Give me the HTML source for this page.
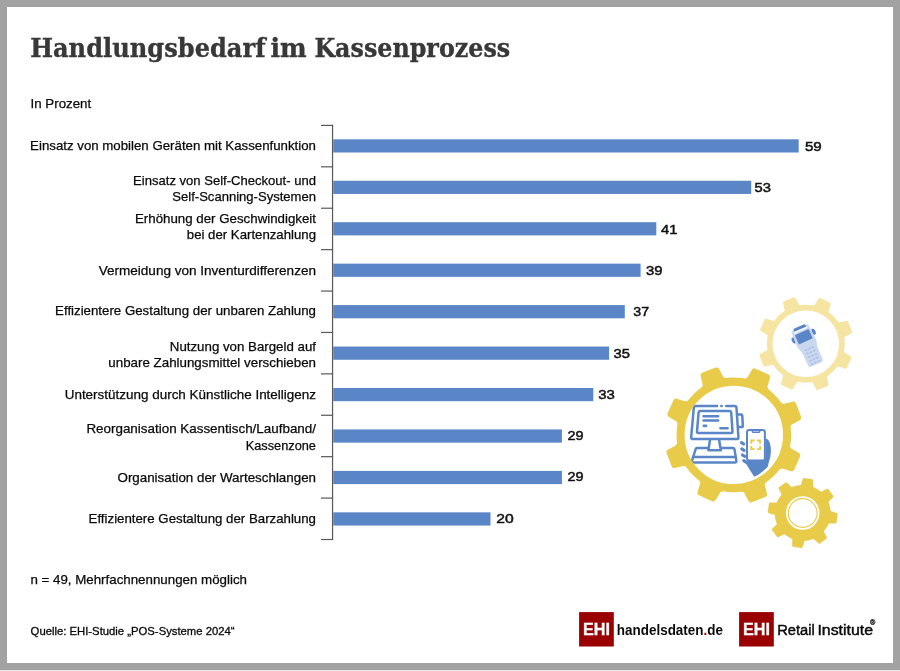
<!DOCTYPE html>
<html lang="de"><head><meta charset="utf-8"><title>Handlungsbedarf im Kassenprozess</title>
<style>
html,body{margin:0;padding:0;background:#a2a2a2;}
body{width:900px;height:671px;overflow:hidden;}
svg{display:block}
.t{font-family:"Liberation Sans",sans-serif;font-size:13px;fill:#0a0a0a;stroke:#0a0a0a;stroke-width:0.25px}
.v{font-family:"Liberation Sans",sans-serif;font-size:13.4px;fill:#111;stroke:#111;stroke-width:0.5px}
.h{font-family:"DejaVu Serif","Liberation Serif",serif;font-weight:bold;font-size:25.4px;fill:#383838;stroke:#383838;stroke-width:0.35px}
.q{font-family:"Liberation Sans",sans-serif;font-size:11.2px;fill:#0a0a0a;stroke:#0a0a0a;stroke-width:0.3px}
.lg{font-family:"Liberation Sans",sans-serif;font-size:15.2px;fill:#0a0a0a}
.ehi{font-family:"Liberation Sans",sans-serif;font-size:16px;font-weight:bold;fill:#fff;stroke:#fff;stroke-width:0.3px}
</style></head><body>
<svg width="900" height="671" viewBox="0 0 900 671">
<rect x="0" y="0" width="900" height="671" fill="#a2a2a2"/>
<rect x="0" y="670" width="900" height="1" fill="#e8e8e8"/>
<rect x="7" y="7" width="886" height="656" fill="#ffffff"/>
<text class="h"><tspan x="30.2" y="57.4" textLength="235.4" lengthAdjust="spacingAndGlyphs">Handlungsbedarf</tspan> <tspan x="270.4" y="57.4" textLength="36.2" lengthAdjust="spacingAndGlyphs">im</tspan> <tspan x="314.4" y="57.4" textLength="195.8" lengthAdjust="spacingAndGlyphs">Kassenprozess</tspan></text>
<text class="t" x="30.6" y="107.9" textLength="60.6" lengthAdjust="spacingAndGlyphs">In Prozent</text>
<g stroke="#595959" stroke-width="1.2" fill="none">
<path d="M332.55 124.85 V540.05"/>
<path d="M321 125.40 H333.15"/>
<path d="M321 166.81 H333.15"/>
<path d="M321 208.22 H333.15"/>
<path d="M321 249.63 H333.15"/>
<path d="M321 291.04 H333.15"/>
<path d="M321 332.45 H333.15"/>
<path d="M321 373.86 H333.15"/>
<path d="M321 415.27 H333.15"/>
<path d="M321 456.68 H333.15"/>
<path d="M321 498.09 H333.15"/>
<path d="M321 539.50 H333.15"/>
</g>
<rect x="333.2" y="139.30" width="465.5" height="13.2" fill="#5a86c8"/>
<text class="v" x="804.9" y="150.8" textLength="16.8" lengthAdjust="spacingAndGlyphs">59</text>
<text class="t"><tspan x="30.1" y="149.6" textLength="285.9" lengthAdjust="spacingAndGlyphs">Einsatz von mobilen Geräten mit Kassenfunktion</tspan></text>
<rect x="333.2" y="180.75" width="418.0" height="13.2" fill="#5a86c8"/>
<text class="v" x="754.6" y="191.7" textLength="16.4" lengthAdjust="spacingAndGlyphs">53</text>
<text class="t"><tspan x="133.1" y="184.8" textLength="182.9" lengthAdjust="spacingAndGlyphs">Einsatz von Self-Checkout- und</tspan> <tspan x="172.3" y="200.7" textLength="143.7" lengthAdjust="spacingAndGlyphs">Self-Scanning-Systemen</tspan></text>
<rect x="333.2" y="222.20" width="323.1" height="13.2" fill="#5a86c8"/>
<text class="v" x="661.0" y="233.9" textLength="16.3" lengthAdjust="spacingAndGlyphs">41</text>
<text class="t"><tspan x="135.0" y="223.3" textLength="181.0" lengthAdjust="spacingAndGlyphs">Erhöhung der Geschwindigkeit</tspan> <tspan x="186.8" y="239.2" textLength="129.2" lengthAdjust="spacingAndGlyphs">bei der Kartenzahlung</tspan></text>
<rect x="333.2" y="263.65" width="307.4" height="13.2" fill="#5a86c8"/>
<text class="v" x="646.1" y="274.9" textLength="16.5" lengthAdjust="spacingAndGlyphs">39</text>
<text class="t"><tspan x="98.7" y="274.6" textLength="217.3" lengthAdjust="spacingAndGlyphs">Vermeidung von Inventurdifferenzen</tspan></text>
<rect x="333.2" y="305.10" width="291.6" height="13.2" fill="#5a86c8"/>
<text class="v" x="633.3" y="315.9" textLength="15.8" lengthAdjust="spacingAndGlyphs">37</text>
<text class="t"><tspan x="55.1" y="315.4" textLength="260.9" lengthAdjust="spacingAndGlyphs">Effizientere Gestaltung der unbaren Zahlung</tspan></text>
<rect x="333.2" y="346.55" width="275.9" height="13.2" fill="#5a86c8"/>
<text class="v" x="613.5" y="357.7" textLength="16.4" lengthAdjust="spacingAndGlyphs">35</text>
<text class="t"><tspan x="169.8" y="350.6" textLength="146.2" lengthAdjust="spacingAndGlyphs">Nutzung von Bargeld auf</tspan> <tspan x="108.3" y="366.7" textLength="207.7" lengthAdjust="spacingAndGlyphs">unbare Zahlungsmittel verschieben</tspan></text>
<rect x="333.2" y="388.00" width="260.1" height="13.2" fill="#5a86c8"/>
<text class="v" x="598.3" y="398.7" textLength="16.6" lengthAdjust="spacingAndGlyphs">33</text>
<text class="t"><tspan x="64.7" y="398.8" textLength="251.3" lengthAdjust="spacingAndGlyphs">Unterstützung durch Künstliche Intelligenz</tspan></text>
<rect x="333.2" y="429.45" width="228.7" height="13.2" fill="#5a86c8"/>
<text class="v" x="567.4" y="439.9" textLength="16.1" lengthAdjust="spacingAndGlyphs">29</text>
<text class="t"><tspan x="86.4" y="433.1" textLength="229.6" lengthAdjust="spacingAndGlyphs">Reorganisation Kassentisch/Laufband/</tspan> <tspan x="245.7" y="449.6" textLength="70.3" lengthAdjust="spacingAndGlyphs">Kassenzone</tspan></text>
<rect x="333.2" y="470.90" width="228.7" height="13.2" fill="#5a86c8"/>
<text class="v" x="567.4" y="480.9" textLength="16.1" lengthAdjust="spacingAndGlyphs">29</text>
<text class="t"><tspan x="117.5" y="481.6" textLength="198.5" lengthAdjust="spacingAndGlyphs">Organisation der Warteschlangen</tspan></text>
<rect x="333.2" y="512.35" width="157.3" height="13.2" fill="#5a86c8"/>
<text class="v" x="496.3" y="522.7" textLength="17.4" lengthAdjust="spacingAndGlyphs">20</text>
<text class="t"><tspan x="88.6" y="522.7" textLength="227.4" lengthAdjust="spacingAndGlyphs">Effizientere Gestaltung der Barzahlung</tspan></text>
<text class="t" x="30.4" y="584" textLength="216.6" lengthAdjust="spacingAndGlyphs">n = 49, Mehrfachnennungen möglich</text>
<text class="q" x="30.6" y="635.2" textLength="204.0" lengthAdjust="spacingAndGlyphs">Quelle: EHI-Studie „POS-Systeme 2024“</text>
<defs><clipPath id="hole"><circle cx="733.8" cy="434.9" r="46.6"/></clipPath></defs>
<g fill="none" stroke="#5a86c8" stroke-width="2.5" stroke-linecap="round" stroke-linejoin="round">
<path d="M717 406.1 H695.8 Q694 406.1 693.8 407.9 L691.2 437 Q691 439.1 693.2 439.1 H736.6 Q738.6 439.1 738.4 437 L736.5 407.9 Q736.4 406.1 734.6 406.1 H726.2"/>
<path d="M721.3 406.1 h0.4"/>
<path d="M699.9 411 H729.8 Q731.1 411 731.2 412.4 L732.5 431.7 Q732.6 433.1 731.2 433.1 H698.3 Q696.9 433.1 697 431.7 L698.6 412.4 Q698.7 411 699.9 411Z"/>
<path d="M703.5 416.2 H718.2 M703.5 420.5 H718.2 M720.4 428.2 H727.6"/>
<path d="M703.8 425.8 H706" stroke-width="2.8"/>
<path d="M737.8 414.5 H741 Q742.2 414.5 742.3 415.7 L742.8 425.9 Q742.9 427.1 741.7 427.1 H738.6"/>
<path d="M710 440 L708.4 450.2 H720.8 L719.1 440"/>
<path d="M707.8 448.1 H697.3 Q695.9 448.1 695.5 449.5 L692.1 460.5 Q691.6 462.6 693.6 462.6 H734.8 Q736.8 462.6 736.3 460.5 L734.5 449.5 Q734.2 448.1 732.8 448.1 H721.4"/>
<path d="M693 457 H735.6"/>
</g>
<g>
<path clip-path="url(#hole)" d="M765.8 438.8 Q768.6 439 769.8 443 Q772.6 452 768.6 463 L764 486 L760 486 L745.2 462.6 L748 460.8 H763 Q765.6 460.8 765.6 458 Z" fill="#5a86c8"/>
<rect x="747" y="430" width="17.9" height="30.6" rx="2.4" fill="#fff" stroke="#5a86c8" stroke-width="2"/>
<path d="M752 430.6 L752.9 432.3 H759.2 L760.1 430.6" fill="none" stroke="#5a86c8" stroke-width="1.4" stroke-linejoin="round"/>
<path d="M741.5 442.6 L743.7 444.0 M741.8 448.9 L744.0 450.3 M742.5 455.0 L744.7 456.4 M743.8 460.7 L746.0 462.1" fill="none" stroke="#5a86c8" stroke-width="3.2" stroke-linecap="round"/>
<path d="M751.3 443.8 V440.5 H754.6 M757 440.5 H760.1 V443.8 M760.1 445.9 V449.1 H757 M754.6 449.1 H751.3 V445.9" fill="none" stroke="#e9cb4a" stroke-width="1.9"/>
</g>
<g transform="translate(799.5 327.7) rotate(-24)">
<ellipse cx="-10.4" cy="9.3" rx="1.9" ry="3.3" fill="#5a86c8"/>
<ellipse cx="11.2" cy="9.5" rx="1.9" ry="3.3" fill="#5a86c8"/>
<path d="M-7.6 -0.2 H7.6 Q9.1 -0.2 9.2 1.3 L10.2 17 Q10.3 19 9.6 20.5 L8.6 24 L8.3 38.4 Q8.3 40.3 6.4 40.3 H-5.6 Q-7.5 40.3 -7.5 38.4 L-7.8 25 Q-8 23 -9 21 L-9.6 18 Q-10 17 -10 16 L-9.2 1.3 Q-9.1 -0.2 -7.6 -0.2Z" fill="#c9d7ef"/>
<path d="M-9.2 5 L-9.6 13.5 H10 L9.5 5Z" fill="#c9d7ef"/>
<path d="M-6.4 1.7 V0 Q-6.4 -1.4 -5 -1.4 H5 Q6.4 -1.4 6.4 0 V1.7Z" fill="#5a86c8"/>
<rect x="-7" y="1.9" width="14.4" height="1.5" fill="#fff"/>
<rect x="-7.3" y="4.9" width="15.1" height="10.2" rx="0.6" fill="#5a86c8"/>
<g fill="#a9bfe6"><rect x="-4.45" y="22.30" width="2.5" height="1.6" rx="0.8"/><rect x="-0.80" y="22.30" width="2.5" height="1.6" rx="0.8"/><rect x="2.85" y="22.30" width="2.5" height="1.6" rx="0.8"/><rect x="-4.45" y="26.13" width="2.5" height="1.6" rx="0.8"/><rect x="-0.80" y="26.13" width="2.5" height="1.6" rx="0.8"/><rect x="2.85" y="26.13" width="2.5" height="1.6" rx="0.8"/><rect x="-4.45" y="29.96" width="2.5" height="1.6" rx="0.8"/><rect x="-0.80" y="29.96" width="2.5" height="1.6" rx="0.8"/><rect x="2.85" y="29.96" width="2.5" height="1.6" rx="0.8"/><rect x="-4.45" y="33.79" width="2.5" height="1.6" rx="0.8"/><rect x="-0.80" y="33.79" width="2.5" height="1.6" rx="0.8"/><rect x="2.85" y="33.79" width="2.5" height="1.6" rx="0.8"/><rect x="-4.45" y="37.62" width="2.5" height="1.6" rx="0.8"/><rect x="-0.80" y="37.62" width="2.5" height="1.6" rx="0.8"/><rect x="2.85" y="37.62" width="2.5" height="1.6" rx="0.8"/></g>
</g>
<g transform="translate(805.8,343.7)" fill="#f5e4a2" stroke="#f5e4a2" stroke-linejoin="round">
<path transform="rotate(24.00)" stroke-width="3.2" d="M-7.20 -36.50 Q-5.90 -38.00 -5.90 -40.00 L-5.10 -45.90 L5.10 -45.90 L5.90 -40.00 Q5.90 -38.00 7.20 -36.50Z"/>
<path transform="rotate(69.00)" stroke-width="3.2" d="M-7.20 -36.50 Q-5.90 -38.00 -5.90 -40.00 L-5.10 -45.90 L5.10 -45.90 L5.90 -40.00 Q5.90 -38.00 7.20 -36.50Z"/>
<path transform="rotate(114.00)" stroke-width="3.2" d="M-7.20 -36.50 Q-5.90 -38.00 -5.90 -40.00 L-5.10 -45.90 L5.10 -45.90 L5.90 -40.00 Q5.90 -38.00 7.20 -36.50Z"/>
<path transform="rotate(159.00)" stroke-width="3.2" d="M-7.20 -36.50 Q-5.90 -38.00 -5.90 -40.00 L-5.10 -45.90 L5.10 -45.90 L5.90 -40.00 Q5.90 -38.00 7.20 -36.50Z"/>
<path transform="rotate(204.00)" stroke-width="3.2" d="M-7.20 -36.50 Q-5.90 -38.00 -5.90 -40.00 L-5.10 -45.90 L5.10 -45.90 L5.90 -40.00 Q5.90 -38.00 7.20 -36.50Z"/>
<path transform="rotate(249.00)" stroke-width="3.2" d="M-7.20 -36.50 Q-5.90 -38.00 -5.90 -40.00 L-5.10 -45.90 L5.10 -45.90 L5.90 -40.00 Q5.90 -38.00 7.20 -36.50Z"/>
<path transform="rotate(294.00)" stroke-width="3.2" d="M-7.20 -36.50 Q-5.90 -38.00 -5.90 -40.00 L-5.10 -45.90 L5.10 -45.90 L5.90 -40.00 Q5.90 -38.00 7.20 -36.50Z"/>
<path transform="rotate(339.00)" stroke-width="3.2" d="M-7.20 -36.50 Q-5.90 -38.00 -5.90 -40.00 L-5.10 -45.90 L5.10 -45.90 L5.90 -40.00 Q5.90 -38.00 7.20 -36.50Z"/>
<circle r="36.15" fill="none" stroke-width="5.70"/>
</g>
<g transform="translate(733.8,434.9)" fill="#e9cb4a" stroke="#e9cb4a" stroke-linejoin="round">
<path transform="rotate(24.00)" stroke-width="5.4" d="M-10.02 -54.80 Q-8.20 -56.30 -8.20 -58.70 L-7.20 -66.60 L7.20 -66.60 L8.20 -58.70 Q8.20 -56.30 10.02 -54.80Z"/>
<path transform="rotate(69.00)" stroke-width="5.4" d="M-10.02 -54.80 Q-8.20 -56.30 -8.20 -58.70 L-7.20 -66.60 L7.20 -66.60 L8.20 -58.70 Q8.20 -56.30 10.02 -54.80Z"/>
<path transform="rotate(114.00)" stroke-width="5.4" d="M-10.02 -54.80 Q-8.20 -56.30 -8.20 -58.70 L-7.20 -66.60 L7.20 -66.60 L8.20 -58.70 Q8.20 -56.30 10.02 -54.80Z"/>
<path transform="rotate(159.00)" stroke-width="5.4" d="M-10.02 -54.80 Q-8.20 -56.30 -8.20 -58.70 L-7.20 -66.60 L7.20 -66.60 L8.20 -58.70 Q8.20 -56.30 10.02 -54.80Z"/>
<path transform="rotate(204.00)" stroke-width="5.4" d="M-10.02 -54.80 Q-8.20 -56.30 -8.20 -58.70 L-7.20 -66.60 L7.20 -66.60 L8.20 -58.70 Q8.20 -56.30 10.02 -54.80Z"/>
<path transform="rotate(249.00)" stroke-width="5.4" d="M-10.02 -54.80 Q-8.20 -56.30 -8.20 -58.70 L-7.20 -66.60 L7.20 -66.60 L8.20 -58.70 Q8.20 -56.30 10.02 -54.80Z"/>
<path transform="rotate(294.00)" stroke-width="5.4" d="M-10.02 -54.80 Q-8.20 -56.30 -8.20 -58.70 L-7.20 -66.60 L7.20 -66.60 L8.20 -58.70 Q8.20 -56.30 10.02 -54.80Z"/>
<path transform="rotate(339.00)" stroke-width="5.4" d="M-10.02 -54.80 Q-8.20 -56.30 -8.20 -58.70 L-7.20 -66.60 L7.20 -66.60 L8.20 -58.70 Q8.20 -56.30 10.02 -54.80Z"/>
<circle r="53.25" fill="none" stroke-width="8.10"/>
</g>
<g transform="translate(802.7,513)" fill="#e9cb4a" stroke="#e9cb4a" stroke-linejoin="round">
<path transform="rotate(9.00)" stroke-width="2.6" d="M-5.74 -25.50 Q-4.70 -27.00 -4.70 -28.80 L-4.00 -33.50 L4.00 -33.50 L4.70 -28.80 Q4.70 -27.00 5.74 -25.50Z"/>
<path transform="rotate(54.00)" stroke-width="2.6" d="M-5.74 -25.50 Q-4.70 -27.00 -4.70 -28.80 L-4.00 -33.50 L4.00 -33.50 L4.70 -28.80 Q4.70 -27.00 5.74 -25.50Z"/>
<path transform="rotate(99.00)" stroke-width="2.6" d="M-5.74 -25.50 Q-4.70 -27.00 -4.70 -28.80 L-4.00 -33.50 L4.00 -33.50 L4.70 -28.80 Q4.70 -27.00 5.74 -25.50Z"/>
<path transform="rotate(144.00)" stroke-width="2.6" d="M-5.74 -25.50 Q-4.70 -27.00 -4.70 -28.80 L-4.00 -33.50 L4.00 -33.50 L4.70 -28.80 Q4.70 -27.00 5.74 -25.50Z"/>
<path transform="rotate(189.00)" stroke-width="2.6" d="M-5.74 -25.50 Q-4.70 -27.00 -4.70 -28.80 L-4.00 -33.50 L4.00 -33.50 L4.70 -28.80 Q4.70 -27.00 5.74 -25.50Z"/>
<path transform="rotate(234.00)" stroke-width="2.6" d="M-5.74 -25.50 Q-4.70 -27.00 -4.70 -28.80 L-4.00 -33.50 L4.00 -33.50 L4.70 -28.80 Q4.70 -27.00 5.74 -25.50Z"/>
<path transform="rotate(279.00)" stroke-width="2.6" d="M-5.74 -25.50 Q-4.70 -27.00 -4.70 -28.80 L-4.00 -33.50 L4.00 -33.50 L4.70 -28.80 Q4.70 -27.00 5.74 -25.50Z"/>
<path transform="rotate(324.00)" stroke-width="2.6" d="M-5.74 -25.50 Q-4.70 -27.00 -4.70 -28.80 L-4.00 -33.50 L4.00 -33.50 L4.70 -28.80 Q4.70 -27.00 5.74 -25.50Z"/>
<circle r="22.40" fill="none" stroke-width="11.20"/>
<circle r="14.4" fill="none" stroke="#e9cb4a" stroke-width="1.1"/></g>
<rect x="579.1" y="612.1" width="34.7" height="34.4" fill="#9b0000"/>
<text class="ehi" x="583.0" y="635.1" textLength="26.9" lengthAdjust="spacingAndGlyphs">EHI</text>
<text class="lg" x="616.8" y="634.8" textLength="106.2" style="font-size:14.8px" lengthAdjust="spacingAndGlyphs" font-weight="bold">handelsdaten<tspan fill="#b00000">.</tspan>de</text>
<rect x="739.1" y="612.1" width="34.7" height="34.4" fill="#9b0000"/>
<text class="ehi" x="743.1" y="635.1" textLength="26.9" lengthAdjust="spacingAndGlyphs">EHI</text>
<text class="lg" stroke="#0a0a0a" stroke-width="0.45"><tspan x="777.2" y="634.8" textLength="37.6" lengthAdjust="spacingAndGlyphs">Retail</tspan> <tspan x="817.4" y="634.8" textLength="55.7" lengthAdjust="spacingAndGlyphs">Institute</tspan></text><text x="870" y="624.7" font-family="Liberation Sans,sans-serif" font-size="7.2" font-weight="bold" fill="#222" stroke="#222" stroke-width="0.3">®</text>
</svg>
</body></html>
